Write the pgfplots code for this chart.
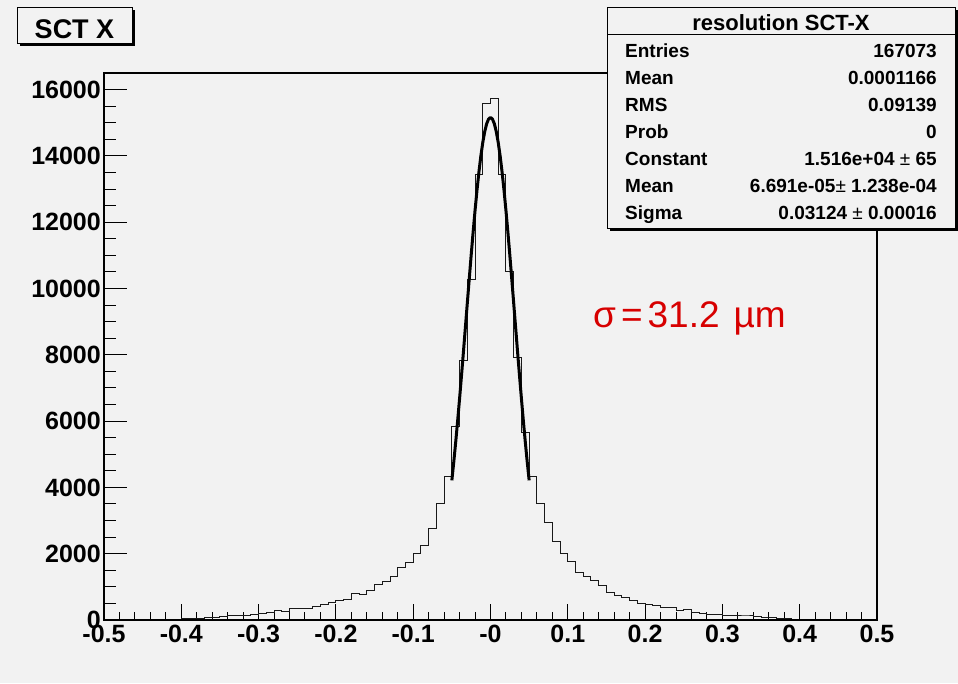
\documentclass[border=0pt]{standalone}
\usepackage{fontspec}
\setmainfont{Liberation Sans}
\usepackage{pgfplots}
\pgfplotsset{compat=1.18}
\usepackage{pgfplotstable}
\definecolor{bg}{RGB}{242,242,242}
\definecolor{sigred}{RGB}{215,0,0}

\pgfplotstableread{
x y
-0.50 0
-0.49 0
-0.48 5
-0.47 5
-0.46 10
-0.45 10
-0.44 15
-0.43 20
-0.42 25
-0.41 30
-0.40 35
-0.39 40
-0.38 50
-0.37 65
-0.36 80
-0.35 100
-0.34 121
-0.33 135
-0.32 145
-0.31 161
-0.30 195
-0.29 225
-0.28 272
-0.27 248
-0.26 335
-0.25 355
-0.24 362
-0.23 418
-0.22 478
-0.21 533
-0.20 600
-0.19 624
-0.18 800
-0.17 755
-0.16 880
-0.15 1070
-0.14 1147
-0.13 1312
-0.12 1575
-0.11 1731
-0.10 2002
-0.09 2254
-0.08 2757
-0.07 3502
-0.06 4327
-0.05 5836
-0.04 7828
-0.03 10264
-0.02 13434
-0.01 15587
0.00 15728
0.01 13434
0.02 10515
0.03 7919
0.04 5655
0.05 4317
0.06 3522
0.07 2938
0.08 2375
0.09 2002
0.10 1761
0.11 1419
0.12 1308
0.13 1177
0.14 1026
0.15 840
0.16 745
0.17 674
0.18 584
0.19 493
0.20 473
0.21 423
0.22 372
0.23 372
0.24 292
0.25 322
0.26 232
0.27 201
0.28 171
0.29 171
0.30 141
0.31 131
0.32 121
0.33 121
0.34 101
0.35 70
0.36 70
0.37 50
0.38 40
0.39 30
0.40 25
0.41 20
0.42 15
0.43 10
0.44 10
0.45 5
0.46 5
0.47 0
0.48 0
0.49 0
0.50 0
}\histdata

\pgfplotstableread{
x y
-0.0500 4212
-0.0475 4771
-0.0450 5372
-0.0425 6009
-0.0400 6679
-0.0375 7376
-0.0350 8094
-0.0325 8824
-0.0300 9560
-0.0275 10290
-0.0250 11007
-0.0225 11696
-0.0200 12351
-0.0175 12959
-0.0150 13509
-0.0125 13994
-0.0100 14403
-0.0075 14729
-0.0050 14967
-0.0025 15112
0.0000 15160
0.0025 15112
0.0050 14967
0.0075 14729
0.0100 14403
0.0125 13994
0.0150 13509
0.0175 12959
0.0200 12351
0.0225 11696
0.0250 11007
0.0275 10290
0.0300 9560
0.0325 8824
0.0350 8094
0.0375 7376
0.0400 6679
0.0425 6009
0.0450 5372
0.0475 4771
0.0500 4212
}\fitdata

\begin{document}
\begin{tikzpicture}
\fill[bg] (0pt,0pt) rectangle (958pt,-683pt);
% x axis with data
\begin{axis}[
  at={(104pt,-620pt)}, anchor=south west,
  scale only axis, width=773pt, height=547pt,
  xmin=-0.5, xmax=0.5, ymin=0, ymax=16500,
  axis line style={black, line width=1.5pt},
  xtick={-0.5,-0.4,-0.3,-0.2,-0.1,0,0.1,0.2,0.3,0.4,0.5},
  xticklabels={-0.5,-0.4,-0.3,-0.2,-0.1,-0,0.1,0.2,0.3,0.4,0.5},
  minor x tick num=4,
  ytick=\empty,
  xtick pos=bottom,
  tick align=inside,
  major tick length=16pt, minor tick length=8pt,
  every tick/.style={black, line width=1pt},
  xticklabel style={font=\bfseries\fontsize{25}{25}\selectfont, inner sep=2pt, yshift=-3pt},
]
\addplot[const plot, black!90, line width=1pt] table[x=x,y=y] {\histdata};
\addplot[black, line width=3pt, line join=round] table[x=x,y=y] {\fitdata};
\end{axis}
% y axis ticks
\begin{axis}[
  at={(104pt,-620pt)}, anchor=south west,
  scale only axis, width=773pt, height=547pt,
  xmin=-0.5, xmax=0.5, ymin=0, ymax=16500,
  axis line style={black, line width=1.5pt},
  xtick=\empty,
  ytick={0,2000,4000,6000,8000,10000,12000,14000,16000},
  minor y tick num=3,
  ytick pos=left,
  tick align=inside,
  major tick length=23pt, minor tick length=12pt,
  every tick/.style={black, line width=1pt},
  scaled y ticks=false,
  /pgf/number format/assume math mode=true,
  /pgf/number format/1000 sep={},
  yticklabel style={font=\bfseries\fontsize{25}{25}\selectfont, inner sep=3pt},
]
\end{axis}
% title box
\fill[black] (20pt,-10pt) rectangle (135pt,-46pt);
\filldraw[fill=bg, draw=black, line width=1pt] (17pt,-7pt) rectangle (132pt,-43pt);
\node[anchor=base, inner sep=0pt] at (74.5pt,-38pt) {\bfseries\fontsize{27}{27}\selectfont SCT X};
% stats box
\fill[black] (610pt,-10pt) rectangle (958pt,-231pt);
\filldraw[fill=bg, draw=black, line width=1pt] (607pt,-7pt) rectangle (955pt,-228pt);
\draw[black, line width=1pt] (607pt,-34pt) -- (955pt,-34pt);
\node[anchor=base, inner sep=0pt] at (781pt,-30pt) {\bfseries\fontsize{22}{22}\selectfont resolution SCT-X};
\begin{scope}[every node/.style={inner sep=0pt, font=\bfseries\fontsize{19}{19}\selectfont}]
\node[anchor=base west] at (625pt,-57pt) {Entries};
\node[anchor=base east] at (937pt,-57pt) {167073};
\node[anchor=base west] at (625pt,-84pt) {Mean};
\node[anchor=base east] at (937pt,-84pt) {0.0001166};
\node[anchor=base west] at (625pt,-111pt) {RMS};
\node[anchor=base east] at (937pt,-111pt) {0.09139};
\node[anchor=base west] at (625pt,-138pt) {Prob};
\node[anchor=base east] at (937pt,-138pt) {0};
\node[anchor=base west] at (625pt,-165pt) {Constant};
\node[anchor=base east] at (937pt,-165pt) {1.516e+04 {\mdseries ±} 65};
\node[anchor=base west] at (625pt,-192pt) {Mean};
\node[anchor=base east] at (937pt,-192pt) {6.691e-05{\mdseries ±} 1.238e-04};
\node[anchor=base west] at (625pt,-219pt) {Sigma};
\node[anchor=base east] at (937pt,-219pt) {0.03124 {\mdseries ±} 0.00016};
\end{scope}
% sigma label
\node[anchor=base west, inner sep=0pt, text=sigred] at (593pt,-327pt) {\fontsize{37}{37}\selectfont σ\kern5pt=\kern5pt31.2\kern14pt µm};
\end{tikzpicture}
\end{document}
